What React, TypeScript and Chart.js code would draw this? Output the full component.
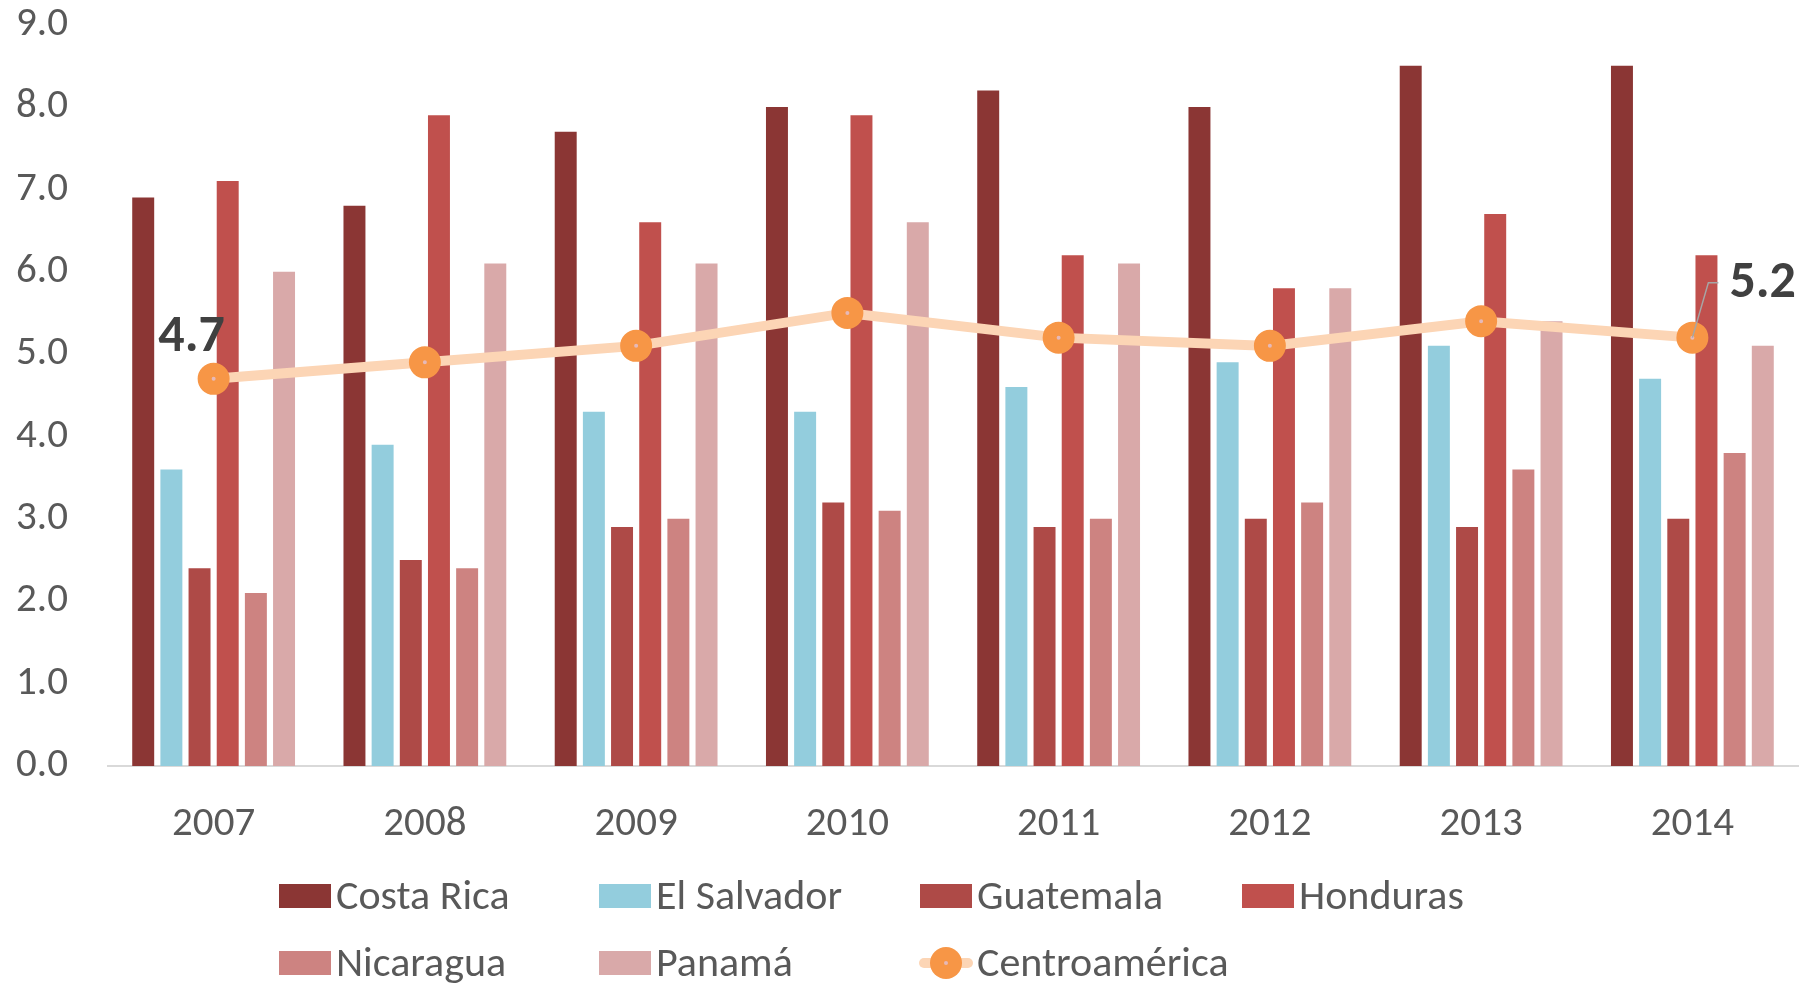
import React, { useEffect, useRef } from "react";
import { Chart, registerables } from "chart.js";

Chart.register(...registerables);

const years = ["2007", "2008", "2009", "2010", "2011", "2012", "2013", "2014"];
const costaRica = [6.9, 6.8, 7.7, 8.0, 8.2, 8.0, 8.5, 8.5];
const elSalvador = [3.6, 3.9, 4.3, 4.3, 4.6, 4.9, 5.1, 4.7];
const guatemala = [2.4, 2.5, 2.9, 3.2, 2.9, 3.0, 2.9, 3.0];
const honduras = [7.1, 7.9, 6.6, 7.9, 6.2, 5.8, 6.7, 6.2];
const nicaragua = [2.1, 2.4, 3.0, 3.1, 3.0, 3.2, 3.6, 3.8];
const panama = [6.0, 6.1, 6.1, 6.6, 6.1, 5.8, 5.4, 5.1];
const centroamerica = [4.7, 4.9, 5.1, 5.5, 5.2, 5.1, 5.4, 5.2];
const yTicks = [0, 1, 2, 3, 4, 5, 6, 7, 8, 9];

const FONT = "Carlito, 'Liberation Sans Narrow', 'Open Sans', sans-serif";
const TEXT = "#595959";
const LINE_COLOR = "#FCD5B5";
const MARKER = "#F79646";
const MARKER_DOT = "#E6B9B8";

const barSeries = [
  { label: "Costa Rica", data: costaRica, color: "#8B3634" },
  { label: "El Salvador", data: elSalvador, color: "#93CDDD" },
  { label: "Guatemala", data: guatemala, color: "#AE4A47" },
  { label: "Honduras", data: honduras, color: "#C0504D" },
  { label: "Nicaragua", data: nicaragua, color: "#CD8381" },
  { label: "Panamá", data: panama, color: "#D9A9A9" },
];

const legendPlugin = {
  id: "gridLegend",
  afterDraw(chart: any) {
    const ctx = chart.ctx;
    const cols = [279, 599, 920, 1242];
    const rows = [896, 963];
    const items: any[] = [
      ...barSeries.map((s) => ({ label: s.label, color: s.color, kind: "box" })),
      { label: "Centroamérica", kind: "line" },
    ];
    ctx.save();
    ctx.font = `42px ${FONT}`;
    ctx.textBaseline = "middle";
    ctx.textAlign = "left";
    items.forEach((it, i) => {
      const x = cols[i % 4];
      const y = rows[Math.floor(i / 4)];
      if (it.kind === "box") {
        ctx.fillStyle = it.color;
        ctx.fillRect(x, y - 12, 52, 24);
      } else {
        ctx.strokeStyle = LINE_COLOR;
        ctx.lineWidth = 10;
        ctx.lineCap = "round";
        ctx.beginPath();
        ctx.moveTo(x + 4, y);
        ctx.lineTo(x + 48, y);
        ctx.stroke();
        ctx.fillStyle = MARKER;
        ctx.beginPath();
        ctx.arc(x + 26, y, 16, 0, Math.PI * 2);
        ctx.fill();
        ctx.fillStyle = MARKER_DOT;
        ctx.beginPath();
        ctx.arc(x + 26, y, 2, 0, Math.PI * 2);
        ctx.fill();
      }
      ctx.fillStyle = TEXT;
      ctx.fillText(it.label, x + 57, y + 2);
    });
    ctx.restore();
  },
};

const labelPlugin = {
  id: "endLabels",
  afterDatasetsDraw(chart: any) {
    const ctx = chart.ctx;
    const meta = chart.getDatasetMeta(6);
    const first = meta.data[0];
    const last = meta.data[meta.data.length - 1];
    ctx.save();
    ctx.font = `bold 52px ${FONT}`;
    ctx.fillStyle = "#404040";
    ctx.textBaseline = "middle";
    ctx.textAlign = "center";
    ctx.fillText(String(centroamerica[0].toFixed(1)), first.x - 22, first.y - 41);
    ctx.strokeStyle = "#A6A6A6";
    ctx.lineWidth = 1.5;
    ctx.beginPath();
    ctx.moveTo(last.x, last.y);
    ctx.lineTo(last.x + 16, last.y - 55);
    ctx.lineTo(last.x + 26, last.y - 55);
    ctx.stroke();
    ctx.textAlign = "left";
    ctx.fillText(String(centroamerica[centroamerica.length - 1].toFixed(1)), last.x + 37, last.y - 54);
    ctx.restore();
  },
};

export default function App() {
  const ref = useRef<HTMLCanvasElement | null>(null);
  useEffect(() => {
    if (!ref.current) return;
    const datasets: any[] = barSeries.map((s) => ({
      type: "bar",
      label: s.label,
      data: s.data,
      backgroundColor: s.color,
      borderWidth: 0,
      categoryPercentage: 0.8,
      barPercentage: 0.78,
      order: 1,
    }));
    datasets.push({
      type: "line",
      label: "Centroamérica",
      data: centroamerica,
      borderColor: LINE_COLOR,
      borderWidth: 10,
      pointRadius: 9,
      pointBorderWidth: 14,
      pointBorderColor: MARKER,
      pointBackgroundColor: MARKER_DOT,
      pointHoverRadius: 9,
      tension: 0,
      order: 0,
    });
    const chart = new Chart(ref.current, {
      type: "bar",
      data: { labels: years, datasets },
      options: {
        animation: false,
        responsive: false,
        maintainAspectRatio: false,
        devicePixelRatio: 1,
        layout: { autoPadding: false, padding: { top: 23, right: 13, left: 0, bottom: 130 } },
        plugins: {
          legend: { display: false },
          tooltip: { enabled: false },
        },
        scales: {
          x: {
            grid: { display: false, drawTicks: false },
            border: { display: true, color: "#D9D9D9", width: 2 },
            ticks: { color: TEXT, font: { family: FONT, size: 41 }, padding: 34 },
            afterFit: (scale: any) => {
              scale.height = 87;
            },
          },
          y: {
            min: 0,
            max: 9,
            grid: { display: false, drawTicks: true, tickLength: 40 },
            border: { display: false },
            afterBuildTicks: (scale: any) => {
              scale.ticks = yTicks.map((v) => ({ value: v }));
            },
            ticks: {
              color: TEXT,
              font: { family: FONT, size: 41 },
              padding: 0,
              callback: (v: any) => Number(v).toFixed(1),
            },
            afterFit: (scale: any) => {
              scale.width = 108;
            },
          },
        },
      },
      plugins: [labelPlugin, legendPlugin],
    });
    return () => chart.destroy();
  }, []);
  return (
    <div style={{ position: "fixed", left: 0, top: 0, width: 1811, height: 983, background: "#fff", overflow: "hidden" }}>
      <canvas ref={ref} width={1811} height={983} style={{ display: "block", width: 1811, height: 983 }} />
    </div>
  );
}
